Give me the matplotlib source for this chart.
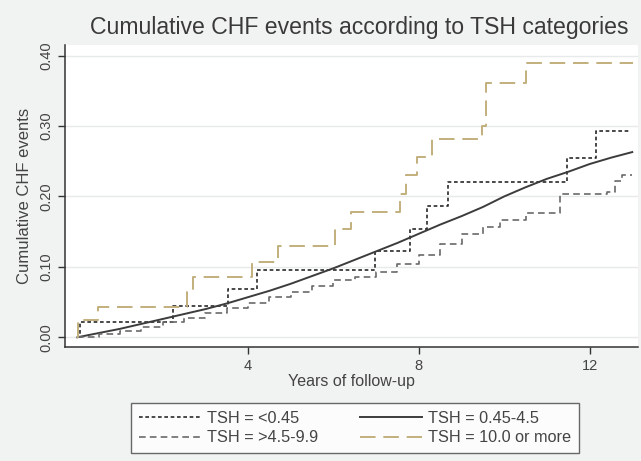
import matplotlib
matplotlib.use("Agg")
import matplotlib.pyplot as plt

plt.rcParams["font.family"] = ["Liberation Sans", "DejaVu Sans"]

# cumulative CHF events by TSH category (Kaplan-Meier style step curves)
low_x = [0, 0.05, 2.24, 3.53, 4.2, 6.97, 7.79, 8.18, 8.69, 11.46, 12.16, 12.98]
low_y = [0, 0.022, 0.045, 0.069, 0.095, 0.123, 0.154, 0.186, 0.220, 0.255, 0.293, 0.293]

normal_x = [0, 0.5, 1, 1.5, 2, 2.5, 3, 3.5, 4, 4.5, 5, 5.5, 6, 6.5, 7,
            7.5, 8, 8.5, 9, 9.5, 10, 10.5, 11, 11.5, 12, 12.5, 13]
normal_y = [0, 0.006, 0.012, 0.019, 0.026, 0.033, 0.040, 0.048, 0.057, 0.066,
            0.076, 0.087, 0.098, 0.110, 0.122, 0.134, 0.147, 0.160, 0.172,
            0.185, 0.200, 0.213, 0.225, 0.235, 0.246, 0.255, 0.263]

mid_x = [0, 0.5, 1, 1.5, 2, 2.5, 3, 3.5, 4, 4.5, 5, 5.5, 6, 6.5, 7, 7.5, 8,
         8.5, 9, 9.5, 9.9, 10.5, 11.3, 12.4, 12.6, 12.75, 13.0]
mid_y = [0, 0.004, 0.009, 0.015, 0.021, 0.027, 0.034, 0.041, 0.049, 0.057,
         0.065, 0.073, 0.081, 0.085, 0.093, 0.104, 0.117, 0.133, 0.146,
         0.156, 0.167, 0.176, 0.203, 0.206, 0.222, 0.230, 0.230]

high_x = [0, 0.02, 0.49, 2.56, 2.72, 4.08, 4.71, 6.04, 6.4, 7.56, 7.71, 7.95,
          8.3, 9.47, 9.57, 10.52, 13.01]
high_y = [0, 0.025, 0.043, 0.064, 0.0855, 0.107, 0.130, 0.154, 0.178, 0.204,
          0.230, 0.256, 0.281, 0.300, 0.361, 0.389, 0.389]

labels = ["TSH = <0.45", "TSH = 0.45-4.5", "TSH = >4.5-9.9", "TSH = 10.0 or more"]
xticks = [4, 8, 12]
yticks = [0.0, 0.1, 0.2, 0.3, 0.4]

fig = plt.figure(figsize=(6.41, 4.61), dpi=100, facecolor="#f1f2f2")
ax = fig.add_axes([0.1014, 0.2473, 0.8936, 0.655])
ax.set_facecolor("white")

l1, = ax.plot(low_x, low_y, drawstyle="steps-post", color="#2a2a2a", lw=1.2,
              dashes=(2.2, 1.6), label=labels[0])
l2, = ax.plot(normal_x, normal_y, color="#3c3c3c", lw=1.4, label=labels[1])
l3, = ax.plot(mid_x, mid_y, drawstyle="steps-post", color="#6a6a6a", lw=1.2,
              dashes=(4, 2.5), label=labels[2])
l4, = ax.plot(high_x, high_y, drawstyle="steps-post", color="#c2b07c", lw=1.4,
              dashes=(8, 4), label=labels[3])

ax.set_xlim(-0.29, 13.13)
ax.set_ylim(-0.0138, 0.415)
ax.set_xticks(xticks)
ax.set_yticks(yticks)
ax.set_yticklabels([f"{v:.2f}" for v in yticks], rotation=90, va="center")
ax.grid(axis="y", color="#e6eaea", lw=1)
ax.set_axisbelow(True)

for side in ["top", "right"]:
    ax.spines[side].set_visible(False)
for side in ["left", "bottom"]:
    ax.spines[side].set_color("#333333")
    ax.spines[side].set_linewidth(1.1)

ax.tick_params(direction="out", length=5, width=1, colors="#333333",
               labelsize=10.5, labelcolor="#444444")
ax.set_xlabel("Years of follow-up", fontsize=11.5, color="#444444", labelpad=1)
ax.set_ylabel("Cumulative CHF events", fontsize=12, color="#444444", labelpad=5)

fig.text(0.56, 0.94, "Cumulative CHF events according to TSH categories",
         ha="center", va="center", fontsize=16.6, color="#3a3a3a")

leg = fig.legend([l1, l3, l2, l4], [labels[0], labels[2], labels[1], labels[3]],
                 ncol=2, loc="center", bbox_to_anchor=(0.554, 0.0716),
                 fontsize=11.7, frameon=True, fancybox=False, handlelength=3.8,
                 handletextpad=0.4, columnspacing=2.6, labelspacing=0.3,
                 borderpad=0.45, labelcolor="#444444")
leg.get_frame().set_edgecolor("#444444")
leg.get_frame().set_linewidth(1.0)
leg.get_frame().set_facecolor("white")

fig.savefig("out.png", dpi=100, facecolor=fig.get_facecolor())
